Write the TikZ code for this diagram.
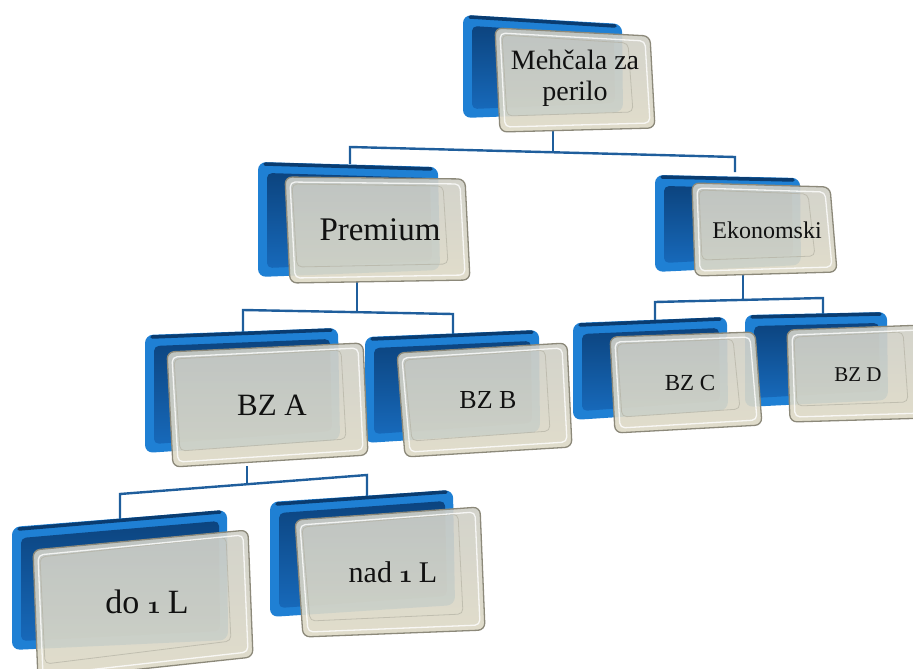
\documentclass[tikz,border=0pt]{standalone}
\usepackage{fontspec}
\setmainfont{Liberation Serif}
\usetikzlibrary{calc}

\definecolor{rimBlue}{HTML}{1F80D4}
\definecolor{rimNavy}{HTML}{0A3C70}
\definecolor{faceTop}{HTML}{0C447F}
\definecolor{faceBot}{HTML}{1769BA}
\definecolor{plateTop}{HTML}{CFCFC7}
\definecolor{plateBot}{HTML}{DEDAC7}
\definecolor{plateEdge}{HTML}{8C897A}
\definecolor{plateLip}{HTML}{B4B2A4}
\definecolor{connBlue}{HTML}{1F5E9C}
\definecolor{inkText}{HTML}{111111}

\tikzset{
  backrim/.style={rounded corners=8pt, fill=rimBlue},
  backtop/.style={draw=rimNavy, line width=3.5pt, line cap=round},
  backface/.style={rounded corners=5pt, top color=faceTop, bottom color=faceBot},
  frontfill/.style={rounded corners=7pt, top color=plateTop, bottom color=plateBot,
    fill opacity=0.92, draw=plateEdge, line width=1.3pt},
  frontlip/.style={rounded corners=5pt, draw=plateLip, line width=0.8pt, opacity=0.7},
  frontglow/.style={rounded corners=5pt, draw=white, line width=1.3pt, opacity=0.8},
  conn/.style={draw=connBlue, line width=2.4pt},
  lbl/.style={text=inkText, align=center, inner sep=0pt},
}

% old-style figure one, set at the given size in pt
\newcommand{\oldone}[1]{{\fontsize{#1}{#1}\usefont{OML}{cmm}{b}{it}1}}

% blue back plate from its four corners (TL, TR, BR, BL)
\newcommand{\backplate}[4]{%
  \path[backrim] (#1) -- (#2) -- (#3) -- (#4) -- cycle;
  \path[backtop] ($(#1)+(7,2)$) -- ($(#2)+(-7,2)$);
  \path[backface] ($(#1)+(9,11)$) -- ($(#2)+(-8,11)$) -- ($(#3)+(-8,-9)$) -- ($(#4)+(9,-9)$) -- cycle;
}
% translucent front plate from its four corners (TL, TR, BR, BL)
\newcommand{\frontplate}[4]{%
  \path[frontfill] (#1) -- (#2) -- (#3) -- (#4) -- cycle;
  \path[frontlip] ($(#1)+(7,7)$) -- ($(#2)+(-22,7)$) -- ($(#3)+(-22,-16)$) -- ($(#4)+(7,-16)$) -- cycle;
  \path[frontglow] ($(#1)+(5,5)$) -- ($(#2)+(-5,5)$) -- ($(#3)+(-5,-5)$) -- ($(#4)+(5,-5)$) -- cycle;
}

\begin{document}
\begin{tikzpicture}[x=1pt,y=-1pt]
\useasboundingbox (0,0) rectangle (913,669);
\clip (0,0) rectangle (913,669);

% ---------- connector anchor points ----------
\coordinate (m-s) at (553,131);
\coordinate (m-j) at (553,152);
\coordinate (m-bl) at (350,147);
\coordinate (m-br) at (735,157);
\coordinate (p-top) at (350,164);
\coordinate (e-top) at (735,172);

\coordinate (p-s) at (357,282);
\coordinate (p-j) at (357,312);
\coordinate (p-bl) at (243,310);
\coordinate (p-br) at (453,314);
\coordinate (a-top) at (243,333);
\coordinate (b-top) at (453,335);

\coordinate (e-s) at (743,275);
\coordinate (e-j) at (743,300);
\coordinate (e-bl) at (655,302);
\coordinate (e-br) at (823,298);
\coordinate (c-top) at (655,321);
\coordinate (d-top) at (823,315);

\coordinate (a-s) at (247,466);
\coordinate (a-j) at (247,484);
\coordinate (a-bl) at (120,494);
\coordinate (a-br) at (367,475);
\coordinate (l1-top) at (120,520);
\coordinate (l2-top) at (367,497);

% ---------- connectors ----------
\draw[conn] (m-s) -- (m-j);
\draw[conn] (p-top) -- (m-bl) -- (m-br) -- (e-top);
\draw[conn] (p-s) -- (p-j);
\draw[conn] (a-top) -- (p-bl) -- (p-br) -- (b-top);
\draw[conn] (e-s) -- (e-j);
\draw[conn] (c-top) -- (e-bl) -- (e-br) -- (d-top);
\draw[conn] (a-s) -- (a-j);
\draw[conn] (l1-top) -- (a-bl) -- (a-br) -- (l2-top);

% ---------- blue back plates ----------
\backplate{463,15}{622,24}{623,112}{463,118}
\backplate{258,162}{438,167}{440,270}{258,277}
\backplate{655,175}{800,178}{801,265}{655,272}
\backplate{145,335}{338,328}{340,440}{145,453}
\backplate{365,337}{539,330}{540,432}{365,443}
\backplate{573,323}{727,317}{728,410}{573,420}
\backplate{745,315}{887,312}{888,400}{745,407}
\backplate{12,527}{227,510}{228,640}{12,650}
\backplate{270,502}{453,490}{455,605}{270,617}

% ---------- front plates ----------
\frontplate{495,28}{650,36}{655,128}{500,132}
\frontplate{285,177}{465,179}{470,280}{290,283}
\frontplate{692,183}{830,187}{837,272}{695,276}
\frontplate{167,352}{363,343}{368,455}{173,467}
\frontplate{397,353}{567,343}{572,447}{405,457}
\frontplate{610,337}{755,332}{762,425}{615,433}
\frontplate{787,330}{925,325}{930,418}{790,422}
\frontplate{33,550}{248,530}{253,657}{38,680}
\frontplate{295,520}{480,507}{485,630}{303,637}

% ---------- labels ----------
\node[lbl, font=\fontsize{28}{31}\selectfont] (mehcala) at (575,78) {Mehčala za\\perilo};
\node[lbl, font=\fontsize{33}{36}\selectfont] (premium) at (380,230) {Premium};
\node[lbl, font=\fontsize{24}{28}\selectfont] (ekonomski) at (767,230) {Ekonomski};
\node[lbl, font=\fontsize{31}{35}\selectfont] (bza) at (272,405) {BZ A};
\node[lbl, font=\fontsize{26}{30}\selectfont] (bzb) at (488,400) {BZ B};
\node[lbl, font=\fontsize{23}{27}\selectfont] (bzc) at (690,383) {BZ C};
\node[lbl, font=\fontsize{21}{25}\selectfont] (bzd) at (858,375) {BZ D};
\node[lbl, font=\fontsize{34}{38}\selectfont] (do1l) at (147,602) {do\hspace{0.22em}\oldone{44}\hspace{0.2em}L};
\node[lbl, font=\fontsize{30}{34}\selectfont] (nad1l) at (393,572) {nad\hspace{0.22em}\oldone{39}\hspace{0.2em}L};
\end{tikzpicture}
\end{document}
